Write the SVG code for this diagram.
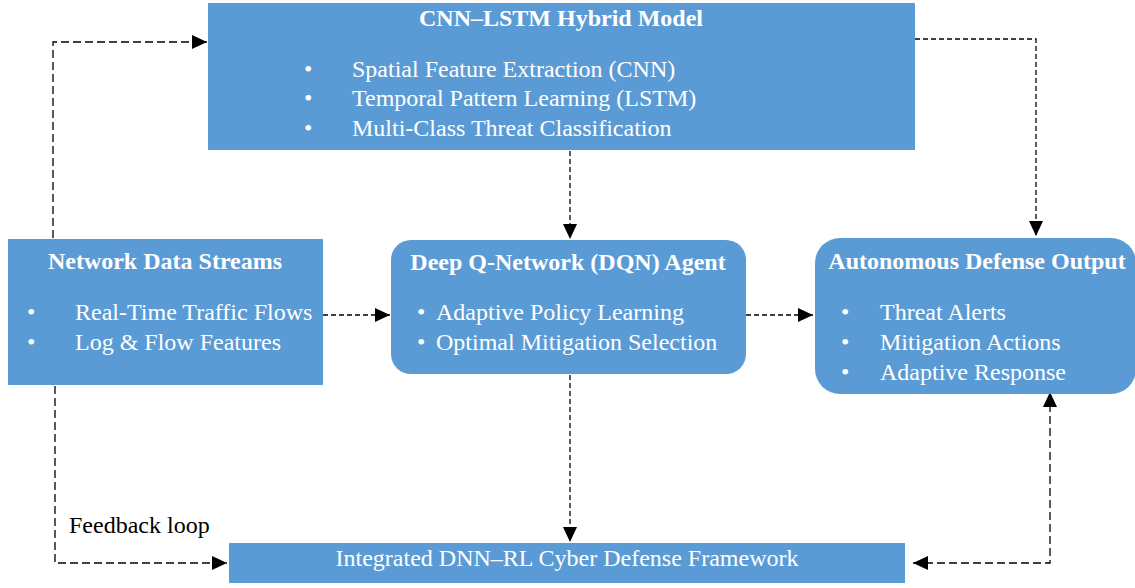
<svg xmlns="http://www.w3.org/2000/svg" width="1135" height="588" viewBox="0 0 1135 588">
  <defs>
    <marker id="arrow" markerWidth="15" markerHeight="14" refX="15" refY="7" orient="auto" markerUnits="userSpaceOnUse" viewBox="0 0 15 14">
      <path d="M0,0 L15,7 L0,14 Z" fill="#000"/>
    </marker>
    <marker id="arrowStart" markerWidth="15" markerHeight="14" refX="0" refY="7" orient="auto" markerUnits="userSpaceOnUse" viewBox="0 0 15 14">
      <path d="M15,0 L0,7 L15,14 Z" fill="#000"/>
    </marker>
    <style>
      .box { fill: #5B9BD5; }
      text { font-family: "Liberation Serif", "Times New Roman", serif; font-size: 24px; }
      .t { fill: #fff; }
      .b { font-weight: bold; }
      .lbl { fill: #000; }
      .link { fill: none; stroke: #000; stroke-width: 1.3; stroke-dasharray: 8 4; }
      .fine { stroke-dasharray: 5 3; }
    </style>
  </defs>

  <rect width="1135" height="588" fill="#fff"/>

  <!-- connectors -->
  <g id="connectors">
    <path class="link" d="M53,238 V42 H207" marker-end="url(#arrow)"/>
    <path class="link fine" d="M915,39 H1036 V236" marker-end="url(#arrow)"/>
    <path class="link fine" d="M570,151 V239" marker-end="url(#arrow)"/>
    <path class="link fine" d="M323,315 H390" marker-end="url(#arrow)"/>
    <path class="link fine" d="M746,315 H813" marker-end="url(#arrow)"/>
    <path class="link fine" d="M570,375 V542" marker-end="url(#arrow)"/>
    <path class="link" d="M55,386 V563 H227" marker-end="url(#arrow)"/>
    <path class="link" d="M913,563 H1050 V392" marker-start="url(#arrowStart)" marker-end="url(#arrow)"/>
    <text class="lbl" x="69" y="533">Feedback loop</text>
  </g>

  <!-- CNN-LSTM model -->
  <g id="cnn-lstm">
    <rect class="box" x="208" y="3" width="707" height="147"/>
    <text class="t b" x="561" y="26" text-anchor="middle">CNN–LSTM Hybrid Model</text>
    <text class="t" x="304" y="77">•</text>
    <text class="t" x="352" y="77">Spatial Feature Extraction (CNN)</text>
    <text class="t" x="304" y="106">•</text>
    <text class="t" x="352" y="106">Temporal Pattern Learning (LSTM)</text>
    <text class="t" x="304" y="136">•</text>
    <text class="t" x="352" y="136">Multi-Class Threat Classification</text>
  </g>

  <!-- Network data streams -->
  <g id="network-data">
    <rect class="box" x="8" y="239" width="315" height="146"/>
    <text class="t b" x="165" y="269" text-anchor="middle">Network Data Streams</text>
    <text class="t" x="27" y="320">•</text>
    <text class="t" x="75" y="320">Real-Time Traffic Flows</text>
    <text class="t" x="27" y="350">•</text>
    <text class="t" x="75" y="350">Log &amp; Flow Features</text>
  </g>

  <!-- DQN agent -->
  <g id="dqn-agent">
    <rect class="box" x="391" y="240" width="355" height="134" rx="20" ry="20"/>
    <text class="t b" x="568" y="270" text-anchor="middle">Deep Q-Network (DQN) Agent</text>
    <text class="t" x="417" y="320">•</text>
    <text class="t" x="436" y="320">Adaptive Policy Learning</text>
    <text class="t" x="417" y="350">•</text>
    <text class="t" x="436" y="350">Optimal Mitigation Selection</text>
  </g>

  <!-- Autonomous defense output -->
  <g id="defense-output">
    <rect class="box" x="815" y="238" width="321" height="156" rx="25" ry="25"/>
    <text class="t b" x="977" y="269" text-anchor="middle">Autonomous Defense Output</text>
    <text class="t" x="841" y="320">•</text>
    <text class="t" x="880" y="320">Threat Alerts</text>
    <text class="t" x="841" y="350">•</text>
    <text class="t" x="880" y="350">Mitigation Actions</text>
    <text class="t" x="841" y="380">•</text>
    <text class="t" x="880" y="380">Adaptive Response</text>
  </g>

  <!-- Integrated framework -->
  <g id="framework">
    <rect class="box" x="229" y="543" width="676" height="40"/>
    <text class="t" x="567" y="566" text-anchor="middle">Integrated DNN–RL Cyber Defense Framework</text>
  </g>
</svg>
